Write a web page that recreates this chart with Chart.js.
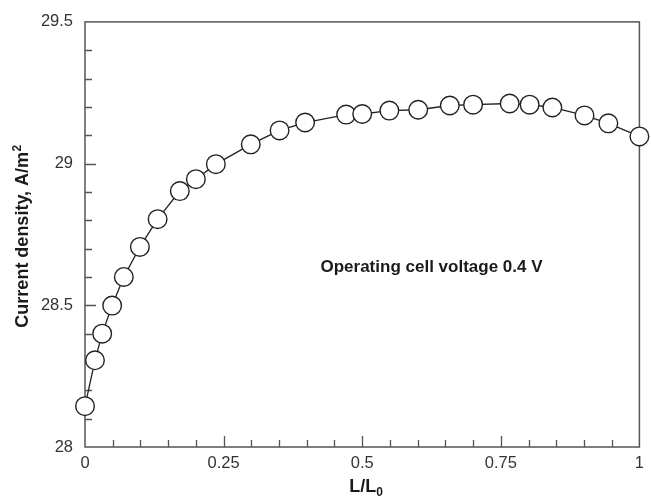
<!DOCTYPE html>
<html>
<head>
<meta charset="utf-8">
<script src="https://cdn.jsdelivr.net/npm/chart.js@4.4.1/dist/chart.umd.min.js"></script>
<style>
  html, body { margin: 0; padding: 0; background: #fff; }
  #wrap { width: 651px; height: 496px; }
</style>
</head>
<body>
<div id="wrap"><canvas id="c" width="651" height="496"></canvas></div>
<script>
// Relative length L/L0
const lengthRatio = [0, 0.018, 0.031, 0.049, 0.070, 0.099, 0.131, 0.171, 0.200, 0.236,
  0.299, 0.351, 0.397, 0.471, 0.500, 0.549, 0.601, 0.658, 0.700, 0.766,
  0.802, 0.843, 0.901, 0.944, 1.000];
// Current density, A/m^2
const currentDensity = [28.144, 28.306, 28.400, 28.499, 28.600, 28.706, 28.804, 28.903, 28.945, 28.998,
  29.068, 29.117, 29.145, 29.173, 29.175, 29.187, 29.190, 29.205, 29.208, 29.212,
  29.208, 29.198, 29.170, 29.142, 29.096];

const xTickValues = [0, 0.25, 0.5, 0.75, 1];
const xTickLabels = ['0', '0.25', '0.5', '0.75', '1'];
const yTickValues = [28, 28.5, 29, 29.5];
const yTickLabels = ['28', '28.5', '29', '29.5'];

const xTitle = 'L/L';
const xTitleSub = '0';
const yTitle = 'Current density, A/m';
const yTitleSup = '2';
const note = 'Operating cell voltage 0.4 V';

const FONT = '"Liberation Sans", Arial, Helvetica, sans-serif';
const AXIS = '#555';

const points = lengthRatio.map((x, i) => ({ x: x, y: currentDensity[i] }));

// Box frame plus inward major/minor ticks on the left and bottom axes
const framePlugin = {
  id: 'frame',
  beforeDatasetsDraw(chart) {
    const { ctx, chartArea: a, scales } = chart;
    ctx.save();
    ctx.strokeStyle = AXIS;
    ctx.lineWidth = 1.5;
    ctx.strokeRect(a.left, a.top, a.right - a.left, a.bottom - a.top);
    ctx.lineWidth = 1.3;
    ctx.beginPath();
    // x ticks every 0.05, major every 0.25
    for (let k = 1; k < 20; k++) {
      const v = k * 0.05;
      const px = Math.round(scales.x.getPixelForValue(v)) + 0.5;
      const len = (k % 5 === 0) ? 11 : 7;
      ctx.moveTo(px, a.bottom);
      ctx.lineTo(px, a.bottom - len);
    }
    // y ticks every 0.1, major every 0.5
    for (let k = 1; k < 15; k++) {
      const v = 28 + k * 0.1;
      const py = Math.round(scales.y.getPixelForValue(v)) + 0.5;
      const len = (k % 5 === 0) ? 11 : 7;
      ctx.moveTo(a.left, py);
      ctx.lineTo(a.left + len, py);
    }
    ctx.stroke();
    ctx.restore();
  },
  afterDraw(chart) {
    const { ctx, chartArea: a } = chart;
    ctx.save();
    ctx.fillStyle = '#1a1a1a';
    // y-axis title with superscript, reading bottom to top
    ctx.font = 'bold 18px ' + FONT;
    const t1 = ctx.measureText(yTitle).width;
    ctx.font = 'bold 12px ' + FONT;
    const t2 = ctx.measureText(yTitleSup).width;
    ctx.translate(28, (a.top + a.bottom) / 2 + 2);
    ctx.rotate(-Math.PI / 2);
    ctx.textAlign = 'left';
    ctx.textBaseline = 'alphabetic';
    const s0 = -(t1 + t2) / 2;
    ctx.font = 'bold 18px ' + FONT;
    ctx.fillText(yTitle, s0, 0);
    ctx.font = 'bold 12px ' + FONT;
    ctx.fillText(yTitleSup, s0 + t1 + 0.5, -7);
    ctx.restore();

    ctx.save();
    ctx.fillStyle = '#1a1a1a';
    // x-axis title with subscript
    ctx.font = 'bold 18px ' + FONT;
    const w1 = ctx.measureText(xTitle).width;
    ctx.font = 'bold 12px ' + FONT;
    const w2 = ctx.measureText(xTitleSub).width;
    const cx = (a.left + a.right) / 2 + 4;
    const x0 = cx - (w1 + w2) / 2;
    ctx.textAlign = 'left';
    ctx.textBaseline = 'alphabetic';
    ctx.font = 'bold 18px ' + FONT;
    ctx.fillText(xTitle, x0, 492);
    ctx.font = 'bold 12px ' + FONT;
    ctx.fillText(xTitleSub, x0 + w1, 496);

    // annotation inside the plot
    ctx.font = 'bold 17px ' + FONT;
    ctx.textAlign = 'center';
    ctx.fillText(note, 431.5, 272);
    ctx.restore();
  }
};

new Chart(document.getElementById('c'), {
  type: 'scatter',
  data: {
    datasets: [{
      data: points,
      showLine: true,
      borderColor: '#222',
      borderWidth: 1.3,
      pointRadius: 9.3,
      pointHoverRadius: 9.3,
      pointBackgroundColor: '#fff',
      pointBorderColor: '#222',
      pointBorderWidth: 1.4,
      tension: 0,
      clip: false
    }]
  },
  options: {
    responsive: false,
    animation: false,
    events: [],
    layout: { padding: { top: 20, right: 10, left: 0, bottom: 0 } },
    plugins: { legend: { display: false }, tooltip: { enabled: false } },
    scales: {
      x: {
        type: 'linear',
        min: 0, max: 1,
        afterBuildTicks(scale) { scale.ticks = xTickValues.map(v => ({ value: v })); },
        afterFit(scale) { scale.height = 49; },
        grid: { display: false, drawTicks: false },
        border: { display: false },
        ticks: {
          padding: 7,
          color: '#333',
          font: { family: FONT, size: 16.5 },
          maxRotation: 0,
          autoSkip: false,
          callback: (v, i) => xTickLabels[i]
        }
      },
      y: {
        type: 'linear',
        min: 28, max: 29.5,
        afterBuildTicks(scale) { scale.ticks = yTickValues.map(v => ({ value: v })); },
        afterFit(scale) { scale.width = 85; },
        grid: { display: false, drawTicks: false },
        border: { display: false },
        ticks: {
          padding: 12,
          color: '#333',
          font: { family: FONT, size: 16.5 },
          autoSkip: false,
          callback: (v, i) => yTickLabels[i]
        }
      }
    }
  },
  plugins: [framePlugin]
});
</script>
</body>
</html>
